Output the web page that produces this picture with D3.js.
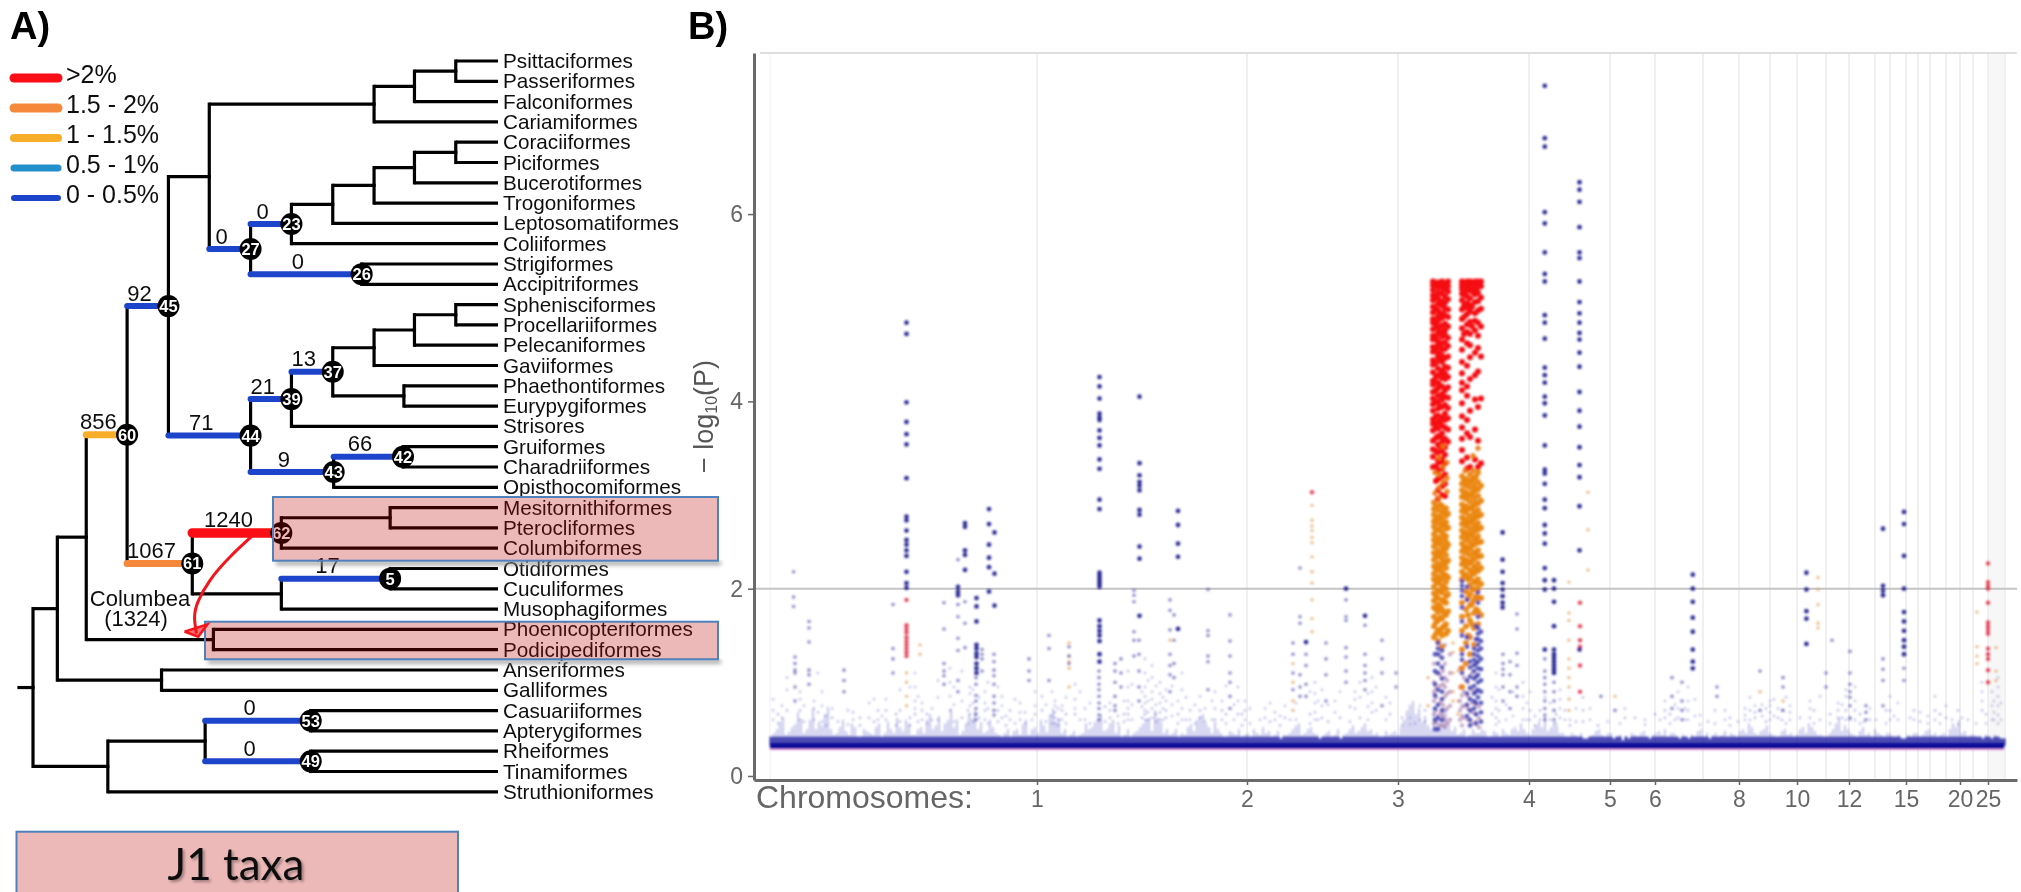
<!DOCTYPE html>
<html>
<head>
<meta charset="utf-8">
<script src="https://cdn.jsdelivr.net/npm/d3@7"></script>
<style>
body { margin: 0; background: #fff; }
svg { display: block; font-family: "Liberation Sans", Arial, sans-serif; }
</style>
</head>
<body>
<svg id="svg1" width="2021" height="892"></svg>
<script>
// PANEL A data: tree
var taxa = ["Psittaciformes","Passeriformes","Falconiformes","Cariamiformes","Coraciiformes","Piciformes","Bucerotiformes","Trogoniformes","Leptosomatiformes","Coliiformes","Strigiformes","Accipitriformes","Sphenisciformes","Procellariiformes","Pelecaniformes","Gaviiformes","Phaethontiformes","Eurypygiformes","Strisores","Gruiformes","Charadriiformes","Opisthocomiformes","Mesitornithiformes","Pterocliformes","Columbiformes","Otidiformes","Cuculiformes","Musophagiformes","Phoenicopteriformes","Podicipediformes","Anseriformes","Galliformes","Casuariiformes","Apterygiformes","Rheiformes","Tinamiformes","Struthioniformes"];
var taxaParents = ["d","d","c","b","h","h","g","f","e","n23","n26","n26","k","k","j","i","l","l","n39","n42","n42","n43","m","m","n62","n5","n5","o","p","p","q","q","n53","n53","n49","n49","r"];
var cladeIds = ["root","n1","n2","n60","n45","a","b","c","d","n27","n23","e","f","g","h","n26","n44","n39","n37","i","j","k","l","n43","n42","n61","n62","m","o","n5","p","q","r","s","n53","n49"];
var cladeParents = ["","root","n1","n2","n60","n45","a","b","c","a","n27","n23","e","f","g","n27","n45","n44","n39","n37","i","j","n37","n44","n43","n60","n61","n62","n61","o","n2","n1","root","r","s","s"];
var cladeDepths = [72,125,188,277,367,456,815,903,993,546,635,725,815,903,993,788,546,635,725,815,903,993,880,727,878,419,613,850,613,850,465,352,235,447,677,677];
var tipDepth = 1085;
var rootStart = 38;

// numbered nodes, changes on the stem and rate bin
var numberedClades = ["n23","n27","n26","n45","n60","n44","n39","n37","n42","n43","n61","n62","n5","n53","n49"];
var nodeNumbers = ["23","27","26","45","60","44","39","37","42","43","61","62","5","53","49"];
var stemCounts = ["0","0","0","92","856","71","21","13","66","9","1067","1240","17","0","0"];
var stemBins = [4,4,4,4,2,4,4,4,4,4,1,0,4,4,4];

var legendLabels = [">2%","1.5 - 2%","1 - 1.5%","0.5 - 1%","0 - 0.5%"];
var binColours = ["#fb0a12","#f5883b","#f9ae2b","#2390cc","#1f44cc"];
var binWidths = [9.5,7,7,6,6];
var legendWidths = [9,9,8,7,6];

// red arrow, as [depth, row]
var arrowCurve = [[548,23.43],[500,24.42],[455,25.57],[428,26.71],[422,27.37],[428,28.2]];
var arrowHead = [[402,28.11],[452,27.75],[432,28.36],[402,28.11]];

// PANEL B data
var chromPos = [267,477,628,759,840,885,933,969,1000,1027,1056,1079,1105,1120,1136,1148,1160,1176,1190,1203,1218,1235];
var labelPos = [267,477,628,759,840,885,969,1027,1079,1136,1190,1218];
var labelNames = ["1","2","3","4","5","6","8","10","12","15","20","25"];
var yTicks = [0,2,4,6];
var threshold = 2;
var baseLevel = 0.32;
var fuzzCore = 0.42;
var baseEnds = [0,1234];

// height of the fuzz over the base band, one value per 6 units of position
var baseFuzz = [.42,.5,.62,.47,.55,.6,.5,.72,.58,.66,.5,.46,.6,.44,.52,.42,.48,.44,.56,.46,.5,.62,.48,.56,.44,.52,.6,.5,.64,.56,.72,.6,.48,.66,.7,.58,.48,.52,.44,.46,
.42,.5,.55,.44,.52,.6,.47,.72,.62,.5,.44,.42,.46,.5,.58,.66,.5,.6,.54,.44,.42,.48,.56,.62,.7,.58,.5,.46,.42,.44,.55,.6,.66,.52,.58,.46,.42,.46,.5,.44,
.42,.46,.52,.48,.44,.4,.44,.5,.56,.46,.52,.44,.42,.48,.44,.4,.46,.54,.48,.56,.5,.46,.42,.44,.48,.52,.7,.8,.72,.64,.5,.66,.74,.6,.52,.46,.42,.5,.46,.48,
.42,.46,.5,.44,.52,.56,.46,.5,.58,.6,.52,.54,.46,.42,.44,.46,.4,.44,.5,.42,.46,.42,.38,.4,.44,.46,.42,.44,.48,.5,.46,.42,.44,.4,.42,.5,.46,.44,.42,.48,
.46,.42,.5,.56,.46,.48,.54,.44,.42,.5,.46,.44,.52,.56,.48,.44,.42,.5,.62,.54,.46,.42,.52,.46,.5,.44,.46,.42,.44,.4,.42,.46,.44,.5,.46,.44,.42,.56,.6,.48,.44,.42,.4,.42,.44,.4];
// a second pass of the fuzz, the same reading taken between those positions
var baseFuzzMid = [.46,.58,.44,.52,.68,.46,.6,.5,.54,.74,.44,.52,.48,.56,.42,.5,.46,.52,.42,.58,.46,.52,.6,.44,.5,.46,.66,.54,.48,.6,.52,.44,.56,.62,.5,.46,.6,.46,.42,.5,
.48,.44,.6,.5,.46,.54,.66,.58,.46,.42,.48,.44,.56,.52,.62,.48,.56,.46,.42,.5,.46,.52,.6,.48,.62,.46,.44,.5,.46,.52,.48,.64,.56,.46,.5,.42,.48,.44,.42,.46,
.5,.44,.46,.42,.48,.44,.46,.54,.44,.5,.46,.4,.46,.42,.5,.44,.5,.46,.52,.48,.44,.42,.48,.46,.44,.6,.76,.66,.58,.54,.7,.62,.68,.48,.44,.5,.44,.46,.5,.42,
.48,.42,.46,.5,.48,.5,.44,.54,.52,.48,.58,.46,.42,.46,.42,.4,.42,.48,.44,.46,.4,.44,.42,.46,.42,.48,.4,.46,.44,.42,.46,.4,.42,.44,.48,.42,.4,.46,.44,.42,
.44,.48,.46,.52,.44,.5,.46,.42,.48,.44,.42,.5,.46,.52,.44,.42,.46,.56,.48,.5,.44,.48,.44,.42,.46,.42,.46,.42,.4,.44,.46,.42,.48,.44,.42,.46,.5,.52,.46,.42,.44,.42,.44,.4,.42,.4];

// columns of points: first number is the position, the rest are -log10(P)
var strongColumns = [
[136.5,4.84,4.72,3.99,3.78,3.65,3.54,3.18,2.77,2.73,2.62,2.52,2.47,2.41,2.35,2.18,2.06,2.01],
[329.5,4.26,4.16,4.03,3.87,3.83,3.8,3.69,3.61,3.53,3.38,3.28,2.95,2.85,2.17,2.14,2.11,2.08,2.05,2.02,1.66,1.6,1.55,1.5,1.44,1.3,1.22],
[369.5,4.05,3.34,3.21,3.14,3.1,3.05,2.84,2.79,2.45,2.32,1.71],
[195,2.7,2.66,2.41,2.36,2.2],[188,2.02,1.97,1.93],[219,2.85,2.69,2.47,2.33,2.23,1.97],[224.5,2.6,2.16,1.82],[206.5,1.9,1.81,1.65,1.4,1.36,1.31,1.27,1.2,1.15,1.1],
[408,2.83,2.68,2.48,2.34,1.57],[576,2],[595,1.71],[536,1.43],
[774.8,7.37,6.81,6.72,6.02,5.9,5.59,5.36,5.28,4.92,4.84,4.67,4.36,4.28,4.2,4.05,3.98,3.85,3.53,3.27,3.23,3.12,2.95,2.86,2.68,2.59,2.48,2.22,2.09,1.99,1.35],
[809.5,6.34,6.26,6.13,5.86,5.59,5.53,5.28,5.06,4.94,4.84,4.73,4.66,4.52,4.37,4.1,3.9,3.73,3.51,3.32,3.19,2.88,2.41,1.35],
[732.6,2.6,2.31,2.18,2.06,1.99,1.92,1.85,1.8],[784,2.09,2,1.86,1.6,1.35,1.3,1.26,1.22,1.18,1.14,1.1],
[922.8,2.15,2,1.86,1.69,1.54,1.35,1.22,1.15],[1036.4,2.17,1.99,1.76,1.68,1.41],[1113,2.64,2.03,1.98,1.93],[1134,2.82,2.69,2.35,2,1.75,1.65,1.55,1.45,1.38,1.3]];
var midColumns = [
[23.6,2.18,1.91,1.81],[39,1.65,1.58,1.43,1.13,1.08,.98],[25,1.27,1.2,1.13,1.1,.95,.8],[74,1.13,1.02,.9],[123,1.83,1.36,1.25,1.1],[174,1.85,1.57,1.2,1.12,1.07,.98],
[188,2.31,1.83,1.7,1.47,1.34,1.02,.9],[195,1.86,1.63,1.37],[206,1.05,.98,.86,.8,.72,.66,.6],[224,1.3,1.22,1.13,1.07,.98,.85,.78,.7,.65],[212,1.35,1.3,1.25,1.12],
[259,1.25,1.12,1.02],[279,1.5,1.36,1.02],[299,1.38,1.28,1.2],[345,1.2,1.12,1,.85,.75,.7],[329,1.12,1.05,.98,.92,.85,.78,.72,.65,.6],[351,1.25,1.1,.95],
[364,1.98,1.93,1.86,1.54,1.45,1.28],[369,1.45,1.3,1.12,.95,.8],[400,1.88,1.77,1.56,1.3,1.18,1.08,.9],[404,1.72,1.45,1.2,1.05],[438,1.99,1.55,1.5,1.28,1.22,.92],[460,1.72,1.44,1.28,1.1,1,.85,.72],
[523,1.42,1.3,1.1,.92],[530,2.22,1.7,1.63,1.08,.95,.85],[536,1.3,1.18,.98,.85],[556,1.42,1.25,1.08,.8],[576,1.88,1.7,1.66,1.37,1.27,1.12,1],[595,1.61,1.3,1.18,1.1,1.02,.92],[612,1.45,1.25,1.1,.75],
[626,1.1,.95],[747,1.73,1.57,1.31,1.18,.95,.85],[733,1.3,1.2,1.14,1.08,.95,.8],[740,1.22,1.08,.9,.72],[784,1,.9,.8,.7,.6],[774.8,1.25,1.12,1.05,.98,.9,.8,.72,.65,.6],[831,.85],[845,.7],[902,1.05,.85,.72],[912,1,.8,.7,.6],
[947,.95,.85],[990,1.12,.7],[1013,1.05,.95,.7],[1062,1.45],[1080,1.33,1.1,.98,.9,.84,.75,.62],[1096,.75,.68,.6],[1113,1.25,1.14,1.02,.75],[1134,1.15,1.02],[1056,1.1,.95]];
var faintColumns = [
[3,.82,.7,.6],[12,.75,.62],[30,.9,.82,.7,.6],[44,.8,.72,.6],[52,.9,.75,.58],[62,.72,.62],[83,.68,.6],[99,.78,.62],[108,.7,.6],[116,.82,.7,.6],[130,.92,.7,.58],[145,1.1,.95,.8,.72,.66],[152,.78,.7,.6],[162,.72,.6],[180,1.15,1,.85,.7],
[200,.95,.88,.75,.66],[215,.9,.78,.7,.6],[232,.85,.75,.62],[240,.7,.6],[250,.78,.68,.6],[265,.9,.75,.66],[272,.85,.7],[285,.8,.75,.68,.62,.56],[292,.75,.7,.6],[305,.98,.82,.72,.66],[315,.72,.6],[340,.78,.7,.62],
[358,1.12,.95,.8,.72,.66,.6],[375,1.25,1.1,.95,.85,.78,.7,.66,.6],[382,1.18,1.05,.9,.82,.72,.62],[390,1,.88,.78,.68,.6],[396,.92,.8,.7,.62],[412,1.1,.92,.72,.6],[420,.7,.6],[430,.85,.7,.62],[445,.9,.72,.6],[452,.8,.7,.6],[468,.95,.8,.66],[475,.8,.7,.6],[495,.72,.62],[505,.68,.6],[515,.75,.62],[545,1,.88,.78,.68,.6],[552,.92,.75,.62],[565,.8,.68],[585,.9,.82,.72],[602,1.05,.9,.78,.68],[620,.78,.66],[640,.62,.55],[650,.75,.6],[655,.7,.58],
[726,1.1,.95,.8,.72,.62,.55],[753,1,.85,.72,.6],[760,.9,.7,.6],[770,.7,.6],[790,.92,.82,.72,.62],[795,.7,.6],[855,.72,.62],[875,.6,.55],[885,.66],[895,.8,.7,.62],[908,.9,.72,.62],[918,.95,.8,.7,.6],[930,.65,.55],[955,.7,.6],[975,.72,.65,.6],[985,.75,.68,.62],[1000,.8,.75,.68,.6],[1008,.72,.62],[1020,.75,.68,.6],[1040,.8,.72,.62],[1050,.85,.6],[1068,.78,.7,.62],[1076,.92,.85,.7,.6],[1085,.95,.8,.7,.6],[1100,.72,.6],[1120,.85,.7,.6],[1128,.78,.6],[1144,.7,.6],[1150,.68,.58],[1165,.85,.7,.6],[1176,.75,.62],[1188,.7,.55],[1198,.6],[1212,1,.9,.8,.7],[1228,1.05,.95,.85,.75,.65,.56],[1224,.8,.68,.6],
[8,.66,.56],[17,1.05,.92,.7],[34,.75,.58],[48,1.1,.68],[56,.64,.54],[68,.58],[78,.7,.55],[90,.62,.54],[104,.82,.58],[112,.64],[126,.66,.54],[140,.95,.62,.54],[148,.85,.58],[157,.66,.56],[168,1.02,.84,.6],[184,.95,.76,.58],[192,1.12,.8,.62],[198,.7,.56],[203,.92,.78,.58],[209,.84,.62],[218,1,.72,.56],[228,.95,.7,.58],[236,.64,.54],[245,.82,.56],[255,.68,.56],[262,.6],[276,.76,.58],[282,.9,.64,.56],[288,.72,.6,.54],[296,.84,.66,.56],[310,.9,.6],[320,.78,.56],[335,.74,.58],[348,.64,.56],[354,.8,.66,.58],[362,.98,.76,.6],[372,.9,.74,.62],[378,1.02,.8,.68,.6],[386,.96,.76,.66,.58],[393,.84,.72,.6],[402,.96,.76,.64],[408,.8,.66,.56],[416,.84,.6],[425,.76,.56],[435,.72,.58],[442,.8,.6],[456,.96,.66,.56],[464,.76,.6],[472,.66,.54],[480,.72,.56],[490,.6],[500,.78,.58],[510,.64,.54],[520,.6],[526,.78,.6],[540,.9,.66,.56],[548,.8,.6],[558,.76,.58],[570,.9,.62],[580,.74,.58],[590,1,.84,.62],[598,.88,.74,.6],[606,.95,.7],[616,.84,.6],[632,.62,.54],[645,.56],
[722,.84,.66],[729,.92,.7,.58],[736,.76,.6],[743,.9,.64],[757,.78,.6],[765,.64,.54],[775,.84,.62],[780,.78,.6],[786,.66,.56],[800,.6,.54],[806,.72,.58],[813,.84,.7,.58],[820,.72,.6],[828,.54],[838,.58],[850,.56],[865,.62],[890,.6],[900,.66,.56],[905,.76,.6],[915,.72,.6],[925,.82,.64],[938,.58],[945,.7,.56],[960,.62,.54],[968,.58],[980,.84,.7,.6],[992,.76,.64],[996,.72,.58],[1004,.82,.64],[1012,.7,.6],[1016,.84,.56],[1030,.62],[1044,.7,.56],[1060,.66,.56],[1072,.76,.62],[1080,.6],[1090,.66,.56],[1094,.58],[1106,.6],[1116,.7,.56],[1124,.64],[1140,.62],[1158,.64,.56],[1170,.66,.56],[1182,.6],[1192,.62],[1206,.56],[1216,.66,.56],[1222,.9,.75,.6],[1231,.78,.6]];
var tanColumns = [
[542,2.89,2.73,2.67,2.62,2.55,2.49,2.34,2.18,2.06,1.88,1.68,1.54],[523,1.2,1,.8,.7],[818,3.03,2.63,2.2],[799,2.07,1.74,1.66,1.45,1.25,1.15,1.05,.95,.82,.7],[1048,2.12,1.99,1.83,1.63,1.58],[1207,1.75,1.38,1.28,1.2],[1226,1.37,1.12,1.02],[150,1.4,1.3],[299,1.42,1.28,1.22,1.15,.95],[400,1.45],[845,.85],[990,.9],[1013,.8],[136.5,1.1,1,.85,.75],[683,1.42,1.32,1.1,.9,.8],[658,1.05,.75],[688,1.12,.8,.66]];
var redColumns = [
[136.5,1.88,1.61,1.57,1.53,1.48,1.44,1.4,1.36,1.32,1.28],[1218,2.27,2.07,2.03,2,1.85,1.64,1.6,1.56,1.52,1.36,1.3,1.25,1.13,1],[810,1.85,1.6,1.45,1.38,1.18,.9],[542,3.03]];
var stackRed = [
[663,5.28,5.24,5.19,5.13,5.08,5.01,4.95,4.88,4.84,4.77,4.7,4.66,4.58,4.53,4.44,4.39,4.31,4.22,4.18,4.1,4.03,3.97,3.9,3.81,3.76,3.69,3.58,3.49,3.41,3.3],
[666,5.26,5.12,4.98,4.82,4.68,4.56,4.41,4.26,4.12,3.99,3.84,3.73,3.61,3.47,3.31,3.15],
[668,5.27,5.22,5.16,5.1,5.04,4.97,4.91,4.86,4.79,4.73,4.64,4.6,4.51,4.47,4.35,4.28,4.2,4.14,4.06,4,3.92,3.85,3.78,3.71,3.63,3.54,3.45,3.37,3.26,3.17,3.05,2.96],
[670,5.24,5.06,4.93,4.74,4.59,4.45,4.29,4.17,3.95,3.79,3.62,3.52,3.35,3.19],
[672,5.28,5.21,5.15,5.07,5.02,4.94,4.89,4.81,4.75,4.69,4.62,4.55,4.49,4.42,4.33,4.25,4.16,4.08,4.02,3.94,3.83,3.74,3.66,3.56,3.47,3.39,3.28,3.2,3.09,3],
[675,5.26,5.2,5.12,5.05,4.99,4.92,4.83,4.76,4.71,4.63,4.56,4.46,4.37,4.3,4.24,4.12,4.05,3.96,3.87,3.8,3.72,3.6,3.51,3.43,3.34,3.22,3.12,2.99],
[678,5.28,5.23,5.17,5.09,4.98,4.9,4.8,4.68,4.59,4.48,4.36,4.26,4.15,4.04,3.93,3.82,3.7,3.57],
[692,5.28,5.24,5.2,5.15,5.08,4.98,4.88,4.78,4.66,4.55,4.42,4.3,4.2,4.12,3.98,3.84,3.72,3.6,3.48,3.36],
[694,5.26,5.14,5.02,4.9,4.72],
[697,5.28,5.23,5.18,5.12,5.05,5,4.93,4.82,4.74,4.62,4.38,4.16,4.06,3.8,3.66,3.4,3.28],
[700,5.28,5.25,5.21,5.1,5.03,4.96,4.85,4.72,4.6,4.47,4.24,3.9,3.62,3.3],
[702,5.27,5.17,5.01,4.8],
[705,5.28,5.24,5.19,5.14,5.06,4.94,4.86,4.76,4.52,4.28,4.02,3.7,3.38],
[708,5.28,5.22,5.16,5.07,4.97,4.84,4.7,4.57,4.32,3.94,3.58,3.3],
[711,5.28,5.23,5.11,4.99,4.8,4.48,4.03,3.34]];
var stackOrange = [
[664,2.92,2.85,2.79,2.72,2.66,2.58,2.52,2.45,2.38,2.31,2.24,2.16,2.1,2.02,1.95,1.87,1.8,1.7,1.6,1.48],
[666,2.88,2.74,2.62,2.49,2.35,2.21,2.08,1.92,1.78,1.64,1.52],
[668,2.84,2.77,2.7,2.63,2.55,2.48,2.41,2.34,2.27,2.2,2.13,2.06,1.98,1.9,1.83,1.75,1.66,1.56,1.44],
[670,2.9,2.76,2.64,2.51,2.37,2.23,2.09,1.97,1.81,1.69,1.54],
[672,2.88,2.81,2.74,2.68,2.6,2.53,2.46,2.39,2.32,2.25,2.18,2.11,2.03,1.96,1.88,1.78,1.68,1.58,1.5,1.38],
[674,2.83,2.69,2.57,2.42,2.29,2.15,2.01,1.86,1.74,1.6],
[676,2.86,2.78,2.71,2.64,2.56,2.5,2.43,2.36,2.28,2.22,2.14,2.07,2,1.92,1.85,1.72,1.62,1.52],
[678,2.8,2.65,2.47,2.3,2.12,1.94,1.76,1.55],
[692,3.2,3.12,3.05,2.98,2.9,2.83,2.76,2.69,2.62,2.55,2.48,2.4,2.33,2.26,2.18,2.1,1.85,1.7,1.55,1.35,1.15,.95],
[694,3.15,3,2.86,2.72,2.58,2.44,2.29,2.14],
[696,3.17,3.1,3.03,2.96,2.88,2.81,2.74,2.67,2.6,2.52,2.45,2.38,2.31,2.23,2.15,1.97,1.78,1.6,1.42,1.2],
[698,3.13,2.99,2.85,2.7,2.56,2.42,2.27,2.1,1.9,1.72,1.5],
[700,3.22,3.15,3.08,3,2.93,2.86,2.78,2.71,2.64,2.57,2.5,2.43,2.36,2.28,2.2,2.12,2.04,1.94,1.82,1.66,1.48,1.3],
[702,3.16,3.02,2.87,2.73,2.59,2.46,2.3,2.17,2,1.84,1.62],
[704,3.18,3.11,3.04,2.97,2.89,2.82,2.75,2.68,2.61,2.54,2.47,2.39,2.32,2.24,2.16,2.08,1.99,1.88,1.74,1.58,1.4],
[706,3.2,3.07,2.92,2.78,2.65,2.52,2.37,2.21,2.06,1.92,1.78],
[708,3.24,3.14,3.06,2.99,2.91,2.84,2.77,2.7,2.63,2.56,2.49,2.41,2.34,2.27,2.19,2.1,2,1.9,1.76,1.62],
[711,3.1,2.94,2.79,2.65,2.5,2.35,2.22,2.05,1.9,1.72]];
var stackMix = [[669,3.4,3.22,3.08,2.97],[673,3.52,3.3,3.14],[677,3.35,3.18,3.04],[665,3.24,3.02],[695,3.26],[703,3.42,3.26],[708,3.5]];
var stackBlue = [
[692,2.08,2.03,1.98,1.92,1.8,1.65,1.5,1.3,1.24,1.1],[708,1.96,1.85,1.7,1.58,1.52,1.46,1.4,1.34,1.28,1.22,1.15,1.08,1,.92,.84],[704,1.36,1.3,1.24,1.18,1.12,1.04,.96,.88,.8,.72],[700,1.22,1.16,1.06,.94,.82,.7,.6,.54],[711,1.54,1.44,1.36,1.25,1.14,1.02,.9,.78,.68,.58],
[668,1.42,1.36,1.3,1.2,1.1,.92,.76,.62,.5],[672,1.34,1.26,1.16,1.04,.9,.82,.7,.6],[665,1.3,1.12,.98,.86,.72,.6,.5],[697,2.02,1.88,1.48,1.38,1.02,.88,.76,.64],[706,1.6,1.46,1.2,1.06,.9,.78,.66,.56]];
var stackPale = [
[664,1.2,1,.9,.8,.66,.56],[670,1.28,1.08,.96,.78,.66,.54],[675,1.4,1.2,1.05,.95,.85,.7,.6,.52],[680,1.3,1.1,.9,.75,.6],[690,1.15,.95,.8,.7,.6],[694,1.05,.9,.75,.62],[698,1,.85,.72,.6],[706,.76,.66,.58],[666,1.1,.94,.84,.7,.58],[673,1.12,.98,.76,.64,.54],[677,1.02,.88,.72,.56],[692,.86,.74,.64,.54],[702,1.1,.92,.78,.68,.56],[709,.74,.62,.52]];

// scales: the position unit is close to one pixel
var svg = d3.select("#svg1");
var xTree = d3.scaleLinear().domain([rootStart, tipDepth]).range([17.4, 498]);
var yTree = d3.scaleLinear().domain([0, 36]).range([61, 791.8]);
var x = d3.scaleLinear().domain([-16, 1247]).range([754, 2017]);
var y = d3.scaleLinear().domain([-0.043, 7.72]).range([780, 53]);

var defs = svg.append("defs");
defs.append("filter").attr("id", "soft").append("feGaussianBlur").attr("stdDeviation", 0.8);
defs.append("filter").attr("id", "softer").attr("x", "-10%").attr("y", "-10%").attr("width", "120%").attr("height", "120%")
    .append("feGaussianBlur").attr("stdDeviation", 0.35);
defs.append("filter").attr("id", "shadow").attr("y", "-50%").attr("height", "300%").append("feGaussianBlur").attr("stdDeviation", 2);

/////////////////////////////////////////
// PANEL A
/////////////////////////////////////////
var panelA = svg.append("g").attr("filter", "url(#softer)");

svg.selectAll(".panelLetter").data([["A)", 10], ["B)", 688]]).enter().append("text")
    .attr("class", "panelLetter")
    .attr("x", function(d) { return d[1]; })
    .attr("y", 39)
    .style("font-size", "38px").style("font-weight", "bold").style("fill", "#000")
    .text(function(d) { return d[0]; });

// legend
var legend = panelA.selectAll(".legendRow").data(legendLabels).enter().append("g")
    .attr("transform", function(d, i) { return "translate(0," + (78 + i * 30) + ")"; });
legend.append("line").attr("x1", 14).attr("x2", 58)
    .attr("stroke", function(d, i) { return binColours[i]; })
    .attr("stroke-width", function(d, i) { return legendWidths[i]; })
    .attr("stroke-linecap", "round");
legend.append("text").attr("x", 66).attr("y", 5)
    .style("font-size", "25px").style("fill", "#111").text(function(d) { return d; });

// build the tree
var nodeTable = cladeIds.map(function(id, i) {
    return { id: id, parent: cladeParents[i] || null, depth: cladeDepths[i] };
});
taxa.forEach(function(t, i) {
    nodeTable.push({ id: t, parent: taxaParents[i], depth: tipDepth, row: i });
});
var root = d3.stratify().id(function(d) { return d.id; }).parentId(function(d) { return d.parent; })(nodeTable);
root.eachAfter(function(n) {
    n.row = n.children ? d3.mean(n.children, function(c) { return c.row; }) : n.data.row;
});
var byId = {};
root.each(function(n) { byId[n.id] = n; });

// black verticals first, then stems
var linkNodes = root.descendants().filter(function(n) { return n.parent; });
panelA.selectAll(".vert").data(linkNodes).enter().append("line")
    .attr("x1", function(n) { return xTree(n.parent.data.depth); })
    .attr("x2", function(n) { return xTree(n.parent.data.depth); })
    .attr("y1", function(n) { return yTree(n.parent.row); })
    .attr("y2", function(n) { return yTree(n.row); })
    .attr("stroke", "#000").attr("stroke-width", 3.2).attr("stroke-linecap", "square");
panelA.selectAll(".stem").data(linkNodes).enter().append("line")
    .attr("x1", function(n) { return xTree(n.parent.data.depth); })
    .attr("x2", function(n) { return xTree(n.data.depth); })
    .attr("y1", function(n) { return yTree(n.row); })
    .attr("y2", function(n) { return yTree(n.row); })
    .attr("stroke", function(n) {
        var k = numberedClades.indexOf(n.id);
        return k < 0 ? "#000" : binColours[stemBins[k]];
    })
    .attr("stroke-width", function(n) {
        var k = numberedClades.indexOf(n.id);
        return k < 0 ? 3.2 : binWidths[stemBins[k]];
    })
    .attr("stroke-linecap", function(n) { return numberedClades.indexOf(n.id) < 0 ? "butt" : "round"; });
panelA.append("line")
    .attr("x1", xTree(rootStart)).attr("x2", xTree(root.data.depth))
    .attr("y1", yTree(root.row)).attr("y2", yTree(root.row))
    .attr("stroke", "#000").attr("stroke-width", 3.2);

// taxa names
panelA.selectAll(".taxon").data(taxa).enter().append("text")
    .attr("x", 503)
    .attr("y", function(d, i) { return yTree(i) + 7; })
    .style("font-size", "20.7px").style("fill", "#111")
    .text(function(d) { return d; });

// numbered nodes and stem counts
var numbered = panelA.selectAll(".numbered").data(numberedClades).enter().append("g")
    .attr("transform", function(d) {
        return "translate(" + xTree(byId[d].data.depth) + "," + yTree(byId[d].row) + ")";
    });
numbered.append("circle").attr("r", 11).attr("fill", "#000");
numbered.append("text").attr("text-anchor", "middle").attr("y", 6)
    .style("font-size", "16.5px").style("font-weight", "bold").style("fill", "#fff")
    .text(function(d, i) { return nodeNumbers[i]; });

panelA.selectAll(".count").data(numberedClades).enter().append("text")
    .attr("text-anchor", "middle")
    .attr("x", function(d) {
        var n = byId[d];
        return xTree((n.parent.data.depth + n.data.depth) / 2 - 18);
    })
    .attr("y", function(d) { return yTree(byId[d].row) - 5.5; })
    .style("font-size", "22px").style("fill", "#111")
    .text(function(d, i) { return stemCounts[i]; });

var columbea = panelA.append("text").attr("text-anchor", "middle")
    .style("font-size", "22px").style("fill", "#111");
columbea.append("tspan").attr("x", 140).attr("y", 606).text("Columbea");
columbea.append("tspan").attr("x", 136).attr("y", 626).text("(1324)");

// J1 boxes go over the tree so the lines go dark red
var boxes = [[273, 497, 445, 63.7], [205, 621.7, 513, 37.6], [16.5, 831.7, 441.5, 80]];
panelA.selectAll(".boxShadow").data(boxes).enter().append("rect")
    .attr("x", function(d) { return d[0] + 3; })
    .attr("y", function(d) { return d[1] + d[3] + 1; })
    .attr("width", function(d) { return d[2]; })
    .attr("height", 3)
    .attr("fill", "#888").attr("filter", "url(#shadow)");
panelA.selectAll(".box").data(boxes).enter().append("rect")
    .attr("x", function(d) { return d[0]; })
    .attr("y", function(d) { return d[1]; })
    .attr("width", function(d) { return d[2]; })
    .attr("height", function(d) { return d[3]; })
    .attr("fill", "rgba(192,0,0,0.28)")
    .attr("stroke", "#4f81bd").attr("stroke-width", 2);
panelA.append("text").attr("x", 236).attr("y", 880).attr("text-anchor", "middle")
    .style("font-family", "Lato").style("font-size", "44px").style("fill", "#111")
    .style("text-shadow", "2px 2px 3px rgba(0,0,0,0.35)")
    .text("J1 taxa");

// red arrow
var treeLine = d3.line()
    .x(function(d) { return xTree(d[0]); })
    .y(function(d) { return yTree(d[1]); });
panelA.append("path").attr("d", treeLine.curve(d3.curveBasis)(arrowCurve))
    .attr("fill", "none").attr("stroke", "#f5121a").attr("stroke-width", 3);
panelA.append("path").attr("d", treeLine.curve(d3.curveLinear)(arrowHead))
    .attr("fill", "#f5121a").attr("fill-opacity", 0.6).attr("stroke", "#f5121a").attr("stroke-width", 2.5);

/////////////////////////////////////////
// PANEL B
/////////////////////////////////////////
var panelB = svg.append("g");

// grid
panelB.append("rect")
    .attr("x", x(1218)).attr("width", x(1235) - x(1218))
    .attr("y", y(7.72)).attr("height", y(-0.043) - y(7.72))
    .attr("fill", "#f7f7f7");
panelB.selectAll(".grid").data(chromPos).enter().append("line")
    .attr("x1", function(d) { return x(d); }).attr("x2", function(d) { return x(d); })
    .attr("y1", y(7.72)).attr("y2", y(-0.043))
    .attr("stroke", "#f0f0f0").attr("stroke-width", 2);
panelB.append("line").attr("x1", x(0)).attr("x2", x(0)).attr("y1", y(7.72)).attr("y2", y(-0.043))
    .attr("stroke", "#f6f6f6").attr("stroke-width", 1.5);
panelB.append("line").attr("x1", x(-10)).attr("x2", x(1247)).attr("y1", y(7.72)).attr("y2", y(7.72))
    .attr("stroke", "#dedede").attr("stroke-width", 2);
panelB.append("line").attr("x1", x(-16)).attr("x2", x(1247)).attr("y1", y(threshold)).attr("y2", y(threshold))
    .attr("stroke", "#c4c4c4").attr("stroke-width", 2);

// points, faint layers first
var pointsLayer = panelB.append("g").attr("filter", "url(#soft)");

// each hair is pale at the tip and dark where it meets the base band
function drawFuzz(values, offset) {
    var hairs = pointsLayer.append("g").selectAll("g").data(values).enter().append("g");
    hairs.append("line")
        .attr("x1", function(d, i) { return x(i * 6 + offset); })
        .attr("x2", function(d, i) { return x(i * 6 + offset); })
        .attr("y1", y(baseLevel))
        .attr("y2", function(d) { return y(d); })
        .attr("stroke", "#3636bc").attr("stroke-width", 1.4).attr("stroke-opacity", 0.42);
    hairs.append("line")
        .attr("x1", function(d, i) { return x(i * 6 + offset); })
        .attr("x2", function(d, i) { return x(i * 6 + offset); })
        .attr("y1", y(baseLevel))
        .attr("y2", function(d) { return y(Math.min(d, fuzzCore)); })
        .attr("stroke", "#12129e").attr("stroke-width", 3).attr("stroke-opacity", 0.8);
}
drawFuzz(baseFuzz, 1);
drawFuzz(baseFuzzMid, 4);

function drawColumns(columns, r, colour, alpha) {
    columns.forEach(function(col) {
        pointsLayer.append("g").selectAll("circle").data(col.slice(1)).enter().append("circle")
            .attr("cx", x(col[0]))
            .attr("cy", function(d) { return y(d); })
            .attr("r", r)
            .attr("fill", colour)
            .attr("fill-opacity", alpha);
    });
}
drawColumns(faintColumns, 1.3, "#6a6ac8", 0.42);
drawColumns(tanColumns, 1.7, "#e09a50", 0.65);
drawColumns(stackPale, 2.2, "#a87aa8", 0.6);
drawColumns(midColumns, 1.8, "#4646a8", 0.6);
drawColumns(redColumns, 2.2, "#e0203a", 0.8);
drawColumns(stackOrange, 3, "#ea860e", 0.95);
drawColumns(stackRed, 3, "#f50e12", 1);
drawColumns(stackMix, 2.6, "#ea7a10", 0.9);
drawColumns(stackBlue, 2.4, "#4444b0", 0.85);
drawColumns(strongColumns, 2.4, "#20208e", 0.9);

// base band
var baseLine = d3.line().x(function(d) { return x(d); }).y(y(baseLevel));
pointsLayer.append("path").attr("d", d3.line().x(function(d) { return x(d); }).y(y(baseLevel - 0.035))(baseEnds))
    .attr("stroke", "#f2a8e8").attr("stroke-width", 2).attr("fill", "none");
pointsLayer.append("path").attr("d", baseLine(baseEnds))
    .attr("stroke", "#0b0b9a").attr("stroke-width", 6).attr("fill", "none");

// axes
var yAxis = d3.axisLeft(y).tickValues(yTicks).tickSize(6).tickPadding(5).tickSizeOuter(0);
var xAxis = d3.axisBottom(x).tickValues(labelPos).tickSize(5).tickPadding(6).tickSizeOuter(0)
    .tickFormat(function(d, i) { return labelNames[i]; });
var yG = panelB.append("g").attr("transform", "translate(" + x(-16) + ",0)").call(yAxis);
var xG = panelB.append("g").attr("transform", "translate(0," + y(-0.043) + ")").call(xAxis);
panelB.selectAll(".domain").attr("stroke", "#6a6a6a").attr("stroke-width", 3);
panelB.selectAll(".tick line").attr("stroke", "#666").attr("stroke-width", 1.5);
panelB.selectAll(".tick text").style("font-size", "23px").style("font-family", "Liberation Sans").attr("fill", "#666");

panelB.append("text").attr("x", 756).attr("y", 808)
    .style("font-size", "32px").style("fill", "#666").text("Chromosomes:");

var yTitle = panelB.append("text")
    .attr("transform", "translate(713,473) rotate(-90)")
    .style("font-size", "27px").style("fill", "#555");
yTitle.append("tspan").text("\u2212 log");
yTitle.append("tspan").attr("dy", 4).style("font-size", "16px").text("10");
yTitle.append("tspan").attr("dy", -4).text("(P)");
</script>
</body>
</html>
